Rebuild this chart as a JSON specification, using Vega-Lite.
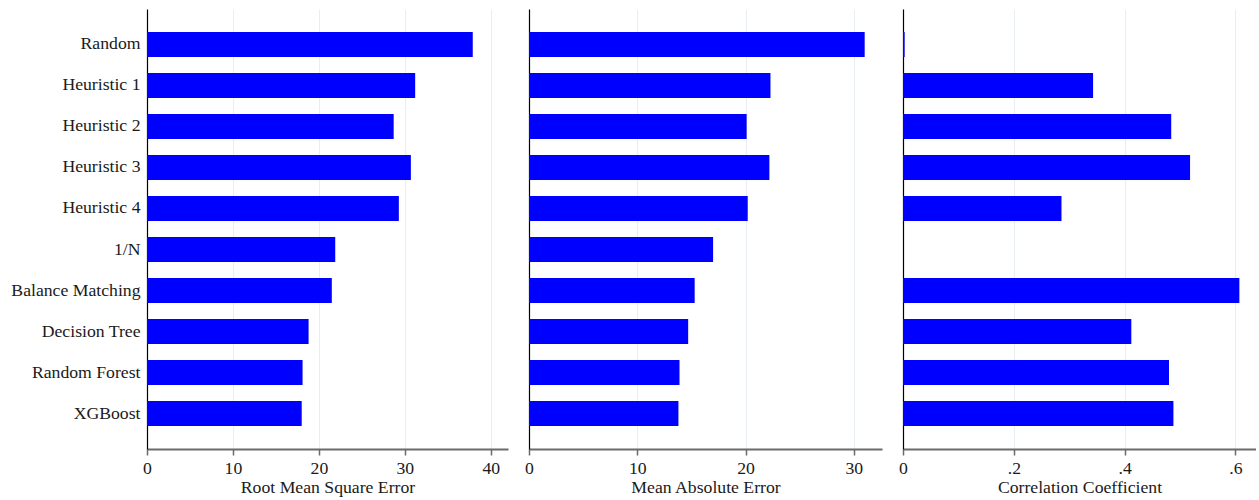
{
  "$schema": "https://vega.github.io/schema/vega-lite/v6.json",
  "padding": {"left": 10, "top": 9, "right": 0, "bottom": 0},
  "background": "white",
  "spacing": 21,
  "bounds": "flush",
  "config": {
    "font": "Liberation Serif, Times New Roman, serif",
    "view": {"stroke": null},
    "axis": {
      "labelFont": "Liberation Serif, Times New Roman, serif",
      "titleFont": "Liberation Serif, Times New Roman, serif",
      "labelFontSize": 17.7,
      "titleFontSize": 17.7,
      "titleFontWeight": "normal",
      "labelColor": "#1a1a1a",
      "titleColor": "#1a1a1a",
      "gridColor": "#e8eef2",
      "gridWidth": 1
    },
    "axisX": {
      "domainColor": "#6b6b6b",
      "domainWidth": 2,
      "tickColor": "#6b6b6b",
      "tickWidth": 1.5,
      "tickSize": 6,
      "labelPadding": 4,
      "titlePadding": 2,
      "labelFlush": false,
      "grid": true
    },
    "axisY": {
      "domainColor": "#000000",
      "domainWidth": 1.2,
      "ticks": false,
      "grid": false,
      "labelPadding": 7
    }
  },
  "data": {
    "values": [
      {"method": "Random", "rmse": 37.9, "mae": 31.0, "corr": 0.003},
      {"method": "Heuristic 1", "rmse": 31.2, "mae": 22.3, "corr": 0.343},
      {"method": "Heuristic 2", "rmse": 28.7, "mae": 20.1, "corr": 0.484},
      {"method": "Heuristic 3", "rmse": 30.7, "mae": 22.2, "corr": 0.518},
      {"method": "Heuristic 4", "rmse": 29.3, "mae": 20.2, "corr": 0.286},
      {"method": "1/N", "rmse": 21.9, "mae": 17.0, "corr": null},
      {"method": "Balance Matching", "rmse": 21.5, "mae": 15.3, "corr": 0.607},
      {"method": "Decision Tree", "rmse": 18.8, "mae": 14.7, "corr": 0.412},
      {"method": "Random Forest", "rmse": 18.1, "mae": 13.9, "corr": 0.480},
      {"method": "XGBoost", "rmse": 18.0, "mae": 13.8, "corr": 0.488}
    ]
  },
  "resolve": {"scale": {"x": "independent", "y": "independent"}},
  "hconcat": [
    {
      "width": 361,
      "height": 440,
      "mark": {"type": "bar", "color": "#0000ff"},
      "encoding": {
        "y": {
          "field": "method", "type": "nominal", "sort": null,
          "scale": {"domain": ["Random", "Heuristic 1", "Heuristic 2", "Heuristic 3", "Heuristic 4", "1/N", "Balance Matching", "Decision Tree", "Random Forest", "XGBoost"], "paddingInner": 0.39, "paddingOuter": 0.56},
          "axis": {"title": null}
        },
        "x": {
          "field": "rmse", "type": "quantitative",
          "scale": {"domain": [0, 42], "nice": false},
          "axis": {"title": "Root Mean Square Error", "values": [0, 10, 20, 30, 40]}
        }
      }
    },
    {
      "width": 353,
      "height": 440,
      "mark": {"type": "bar", "color": "#0000ff"},
      "encoding": {
        "y": {
          "field": "method", "type": "nominal", "sort": null,
          "scale": {"domain": ["Random", "Heuristic 1", "Heuristic 2", "Heuristic 3", "Heuristic 4", "1/N", "Balance Matching", "Decision Tree", "Random Forest", "XGBoost"], "paddingInner": 0.39, "paddingOuter": 0.56},
          "axis": {"title": null, "labels": false, "minExtent": 0, "maxExtent": 0}
        },
        "x": {
          "field": "mae", "type": "quantitative",
          "scale": {"domain": [0, 32.6], "nice": false},
          "axis": {"title": "Mean Absolute Error", "values": [0, 10, 20, 30]}
        }
      }
    },
    {
      "width": 353,
      "height": 440,
      "mark": {"type": "bar", "color": "#0000ff"},
      "encoding": {
        "y": {
          "field": "method", "type": "nominal", "sort": null,
          "scale": {"domain": ["Random", "Heuristic 1", "Heuristic 2", "Heuristic 3", "Heuristic 4", "1/N", "Balance Matching", "Decision Tree", "Random Forest", "XGBoost"], "paddingInner": 0.39, "paddingOuter": 0.56},
          "axis": {"title": null, "labels": false, "minExtent": 0, "maxExtent": 0}
        },
        "x": {
          "field": "corr", "type": "quantitative",
          "scale": {"domain": [0, 0.637], "nice": false},
          "axis": {
            "title": "Correlation Coefficient",
            "values": [0, 0.2, 0.4, 0.6],
            "labelExpr": "datum.value == 0 ? '0' : replace(format(datum.value, '.1f'), '0.', '.')"
          }
        }
      }
    }
  ]
}
